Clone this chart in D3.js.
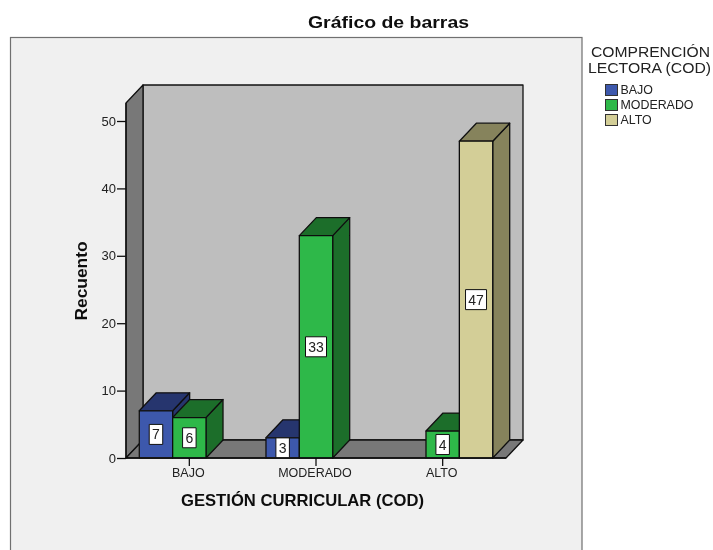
<!DOCTYPE html>
<html><head><meta charset="utf-8">
<script src="https://cdnjs.cloudflare.com/ajax/libs/d3/7.8.5/d3.min.js"></script>
<style>html,body{margin:0;padding:0;background:#fff;overflow:hidden}svg{display:block}text{font-family:"Liberation Sans",Arial,sans-serif}</style>
</head><body><svg id="c" width="713" height="550"><defs><filter id="soft" x="0" y="0" width="100%" height="100%"><feGaussianBlur stdDeviation="0.35"/></filter></defs></svg>
<script>
const categories = ["BAJO","MODERADO","ALTO"];
const seriesNames = ["BAJO","MODERADO","ALTO"];
const valuesBajo = [7,3,null];
const valuesModerado = [6,33,4];
const valuesAlto = [null,null,47];
const yTicks = [0,10,20,30,40,50];
const seriesValues = [valuesBajo,valuesModerado,valuesAlto];
const frontColors = ["#3e58ac","#2db84a","#d3ce97"];
const topColors = ["#26346e","#1e6e2c","#86835c"];
const sideColors = ["#26346e","#1e6e2c","#86835c"];

const root = d3.select("#c");
const svg = root.append("g").attr("filter","url(#soft)");
svg.append("rect").attr("width",713).attr("height",550).attr("fill","#fff");
const ink = "#111";
const dx = 17, dy = 18;
const x0 = d3.scaleBand().domain(categories).range([126,506]).paddingInner(0.21).paddingOuter(0.105);
const x1 = d3.scaleBand().domain(seriesNames).range([0,x0.bandwidth()]);
const xTick = d3.scaleBand().domain(categories).range([126,506]);
const y = d3.scaleLinear().domain([0,50]).range([458,121]);
const yTop = 103;
const poly = pts => pts.map(p=>p.join(",")).join(" ");

// frame (runs past the bottom of the picture)
svg.append("rect").attr("x",10.5).attr("y",37.5).attr("width",571.5).attr("height",530)
  .attr("fill","#f0f0f0").attr("stroke","#6f6f6f").attr("stroke-width",1.2);

// 3-D walls
const wall = svg.append("g").attr("stroke",ink).attr("stroke-width",1.3).attr("stroke-linejoin","round");
const L = x0.range()[0], R = x0.range()[1], B = y(0);
wall.append("polygon").attr("points",poly([[L+dx,yTop-dy],[R+dx,yTop-dy],[R+dx,B-dy],[L+dx,B-dy]])).attr("fill","#bebebe");
wall.append("polygon").attr("points",poly([[L,yTop],[L+dx,yTop-dy],[L+dx,B-dy],[L,B]])).attr("fill","#787878");
wall.append("polygon").attr("points",poly([[L,B],[L+dx,B-dy],[R+dx,B-dy],[R,B]])).attr("fill","#787878");

// bars
const barsG = svg.append("g").attr("stroke",ink).attr("stroke-width",1.3).attr("stroke-linejoin","round");
const labelsG = svg.append("g");
categories.forEach((c,ci)=>{
  seriesNames.forEach((s,si)=>{
    const v = seriesValues[si][ci];
    if(v==null) return;
    const xa = x0(c)+x1(s), xb = xa+x1.bandwidth(), yt = y(v);
    barsG.append("polygon").attr("points",poly([[xb,yt],[xb+dx,yt-dy],[xb+dx,B-dy],[xb,B]])).attr("fill",sideColors[si]);
    barsG.append("polygon").attr("points",poly([[xa,yt],[xa+dx,yt-dy],[xb+dx,yt-dy],[xb,yt]])).attr("fill",topColors[si]);
    barsG.append("rect").attr("x",xa).attr("y",yt).attr("width",xb-xa).attr("height",B-yt).attr("fill",frontColors[si]);
    const txt = String(v), w = 6+7.5*txt.length, h = 20, cx=(xa+xb)/2, cy=y(v/2);
    barsG.append("rect").attr("x",cx-w/2).attr("y",Math.max(cy-h/2,yt)).attr("width",w).attr("height",Math.min(h,B-Math.max(cy-h/2,yt)))
      .attr("fill","#fff").attr("stroke",ink).attr("stroke-width",1);
    labelsG.append("text").attr("x",cx).attr("y",cy+5).attr("text-anchor","middle").attr("font-size",14).attr("fill","#222").text(txt);
  });
});

// axes
const ax = svg.append("g").attr("transform",`translate(${L},0)`).call(d3.axisLeft(y).tickValues(yTicks).tickSize(9).tickPadding(1).tickFormat(d3.format("d")));
ax.select(".domain").attr("d",`M0,${yTop}V${B}`).attr("stroke",ink).attr("stroke-width",1.3);
ax.selectAll("line").attr("stroke",ink).attr("stroke-width",1.3);
ax.selectAll("text").attr("font-size",13).attr("font-family","Liberation Sans").attr("fill","#222");
const bx = svg.append("g").attr("transform",`translate(0,${B})`).call(d3.axisBottom(xTick).tickSize(8).tickPadding(2));
bx.select(".domain").attr("d",`M${L},0H${R}`).attr("stroke",ink).attr("stroke-width",1.3);
bx.selectAll("line").attr("stroke",ink).attr("stroke-width",1.3);
bx.selectAll("text").attr("font-size",12.5).attr("font-family","Liberation Sans").attr("fill","#222").attr("dx",-1);

// titles
const fit = (t,len)=>t.attr("textLength",len).attr("lengthAdjust","spacingAndGlyphs");
fit(svg.append("text").attr("x",388.5).attr("y",28).attr("text-anchor","middle").attr("font-size",16.5).attr("font-weight","bold").attr("fill","#111").text("Gráfico de barras"),161);
fit(svg.append("text").attr("x",302.5).attr("y",506).attr("text-anchor","middle").attr("font-size",16.5).attr("font-weight","bold").attr("fill","#111").text("GESTIÓN CURRICULAR (COD)"),243);
fit(svg.append("text").attr("transform","translate(87,281) rotate(-90)").attr("text-anchor","middle").attr("font-size",16).attr("font-weight","bold").attr("fill","#111").text("Recuento"),79);

// legend
const lt = svg.append("g").attr("font-size",14).attr("fill","#222").attr("text-anchor","middle");
fit(lt.append("text").attr("x",650.5).attr("y",56.5).text("COMPRENCIÓN"),119);
fit(lt.append("text").attr("x",649.5).attr("y",72.5).text("LECTORA (COD)"),123);
seriesNames.forEach((s,i)=>{
  const yy = 84.5+15*i;
  svg.append("rect").attr("x",605.5).attr("y",yy).attr("width",12).attr("height",11).attr("fill",frontColors[i]).attr("stroke","#333").attr("stroke-width",1);
  svg.append("text").attr("x",620.5).attr("y",yy+9.5).attr("font-size",12.4).attr("fill","#222").text(s);
});
</script></body></html>
